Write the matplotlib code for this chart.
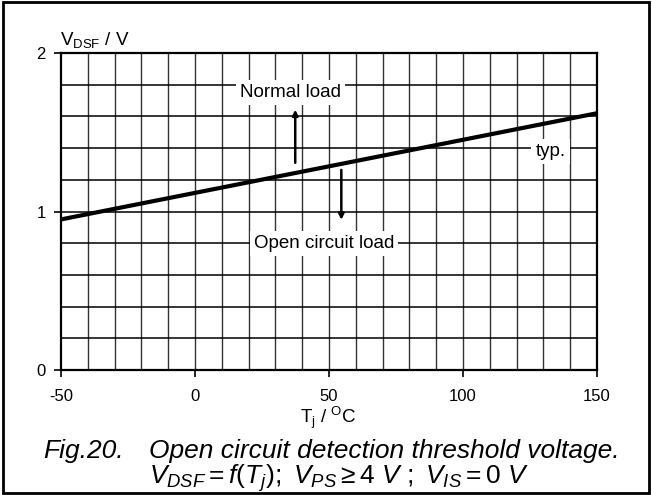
import matplotlib
matplotlib.use('Agg')
import matplotlib.pyplot as plt
import numpy as np
from matplotlib.patches import Rectangle

plt.rcParams['font.family'] = ['Liberation Sans', 'DejaVu Sans']
plt.rcParams['mathtext.fontset'] = 'custom'
plt.rcParams['mathtext.rm'] = 'Liberation Sans'
plt.rcParams['mathtext.it'] = 'Liberation Sans:italic'
plt.rcParams['mathtext.bf'] = 'Liberation Sans:bold'

# typical threshold curve
tj = [-50, 150]
vdsf = [0.95, 1.62]

x_ticks = [-50, 0, 50, 100, 150]
y_ticks = [0, 1, 2]

fig = plt.figure(figsize=(6.52, 4.95), dpi=100)
fig.patches.append(Rectangle((0.005, 0.005), 0.99, 0.99, transform=fig.transFigure,
                             fill=False, edgecolor='black', linewidth=2))

ax = fig.add_axes([61/652, 1 - 370/495, 536/652, 317/495])
ax.set_xlim(-50, 150)
ax.set_ylim(0, 2)

# grid
for gx in np.arange(-40, 150, 10):
    ax.axvline(gx, color='#333333', linewidth=1.0, zorder=1)
for gy in np.arange(0.2, 2.0, 0.2):
    ax.axhline(gy, color='black', linewidth=1.1, zorder=1)

ax.plot(tj, vdsf, color='black', linewidth=3, zorder=4, solid_capstyle='butt')

for s in ax.spines.values():
    s.set_linewidth(1.6)
ax.set_xticks(x_ticks)
ax.set_yticks(y_ticks)
ax.tick_params(direction='out', length=5, width=1.2, labelsize=12, pad=9)
ax.tick_params(axis='y', pad=6)
ax.set_xticklabels([str(v) for v in x_ticks])

box = dict(facecolor='white', edgecolor='none', pad=3)
ax.text(35.5, 1.75, 'Normal load', fontsize=13.5, ha='center', va='center', bbox=box, zorder=5)
ax.text(48.2, 0.80, 'Open circuit load', fontsize=13.5, ha='center', va='center', bbox=box, zorder=5)
ax.text(132.6, 1.38, 'typ.', fontsize=13.5, ha='center', va='center', bbox=box, zorder=5)

ax.annotate('', xy=(37.4, 1.66), xytext=(37.4, 1.29),
            arrowprops=dict(arrowstyle='-|>', color='black', lw=1.8,
                            mutation_scale=8), zorder=6)
ax.annotate('', xy=(54.6, 0.93), xytext=(54.6, 1.28),
            arrowprops=dict(arrowstyle='-|>', color='black', lw=1.8,
                            mutation_scale=8), zorder=6)

fig.text(60/652, 1 - 40/495, r'$\mathrm{V_{DSF}}$ / V', fontsize=13.5, ha='left', va='center')
fig.text(300/652, 1 - 423/495, r'$\mathrm{T_j}$ / $\mathrm{^{O}}$C', fontsize=13.5,
         ha='left', va='baseline')

fig.text(43/652, 1 - 458/495, 'Fig.20.', fontsize=19, style='italic', ha='left', va='baseline')
fig.text(149/652, 1 - 458/495, 'Open circuit detection threshold voltage.', fontsize=19,
         style='italic', ha='left', va='baseline')
fig.text(149/652, 1 - 484/495,
         r'$\mathit{V_{DSF} = f(T_j);\ V_{PS} \geq 4\ V\ ;\ V_{IS} = 0\ V}$',
         fontsize=19, ha='left', va='baseline')

fig.savefig('out.png', dpi=100)
